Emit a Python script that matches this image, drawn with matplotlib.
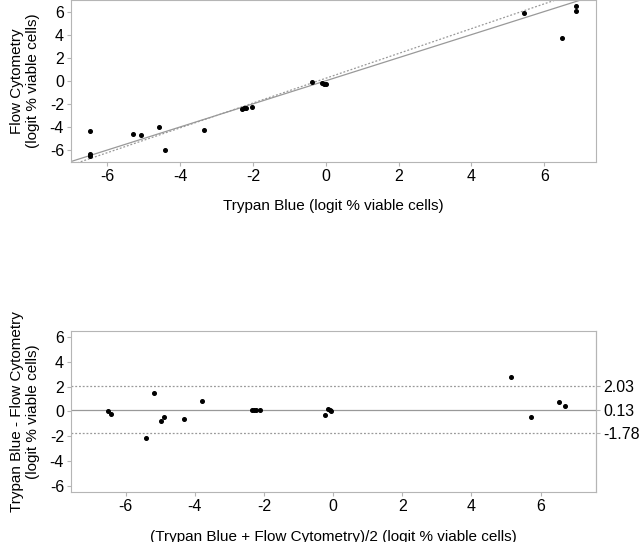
import numpy as np
import matplotlib.pyplot as plt

plt.rcParams['font.family'] = ['Liberation Sans', 'DejaVu Sans']
plt.rcParams['font.size'] = 11
plt.rcParams['axes.unicode_minus'] = False

# top panel: trypan blue vs flow cytometry (logit % viable cells)
tb = [-6.48, -6.48, -6.48, -5.31, -5.09, -4.58, -4.41, -3.36, -2.29, -2.24, -2.20,
      -2.04, -0.39, -0.10, -0.05, 0.00, 5.44, 6.48, 6.88, 6.88]
fc = [-4.36, -6.35, -6.50, -4.64, -4.70, -4.04, -5.97, -4.27, -2.42, -2.40, -2.38,
      -2.25, -0.11, -0.15, -0.25, -0.25, 5.89, 3.72, 6.44, 6.09]

# fitted line (dotted), identity line is solid
fit_slope = 1.075
fit_icept = 0.22

# bottom panel: Bland-Altman
ba_mean = [-6.50, -6.41, -5.17, -5.42, -4.98, -4.89, -4.30, -3.80, -2.35, -2.29, -2.23,
           -2.12, -0.25, -0.14, -0.10, -0.05, 5.15, 5.71, 6.53, 6.70]
ba_diff = [0.02, -0.22, 1.47, -2.18, -0.76, -0.46, -0.62, 0.86, 0.13, 0.13, 0.13,
           0.13, -0.33, 0.21, 0.10, 0.05, 2.74, -0.46, 0.78, 0.43]
bias = 0.13
loa_hi = 2.03
loa_lo = -1.78

grey = '#999999'
spine = '#b5b5b5'

fig = plt.figure(figsize=(6.39, 5.42), dpi=100)
W, H = 639, 542

def style(ax):
    for s in ax.spines.values():
        s.set_color(spine)
    ax.tick_params(color=spine, length=3, width=0.8, labelsize=11.5, pad=2)

ax1 = fig.add_axes([71 / W, 1 - 162 / H, (596 - 71) / W, 162 / H])
ax1.set_xlim(-7.0, 7.42)
ax1.set_ylim(-7.04, 7.0)
xx = np.array([-8, 8])
ax1.plot(xx, xx, color=grey, lw=0.9)
ax1.plot(xx, fit_slope * xx + fit_icept, color=grey, lw=0.9, ls=(0, (1.5, 1.5)))
ax1.plot(tb, fc, 'o', color='black', ms=2.6)
ax1.set_xticks([-6, -4, -2, 0, 2, 4, 6])
ax1.set_yticks([-6, -4, -2, 0, 2, 4, 6])
ax1.set_xlabel('Trypan Blue (logit % viable cells)', labelpad=11)
ax1.set_ylabel('Flow Cytometry\n(logit % viable cells)', labelpad=7)
style(ax1)

ax2 = fig.add_axes([71 / W, 1 - 492.3 / H, (596 - 71) / W, (492.3 - 330.7) / H])
ax2.set_xlim(-7.58, 7.6)
ax2.set_ylim(-6.53, 6.5)
ax2.axhline(bias, color=grey, lw=0.9)
ax2.axhline(loa_hi, color=grey, lw=0.9, ls=(0, (1.5, 1.5)))
ax2.axhline(loa_lo, color=grey, lw=0.9, ls=(0, (1.5, 1.5)))
ax2.plot(ba_mean, ba_diff, 'o', color='black', ms=2.6)
ax2.set_xticks([-6, -4, -2, 0, 2, 4, 6])
ax2.set_yticks([-6, -4, -2, 0, 2, 4, 6])
ax2.set_xlabel('(Trypan Blue + Flow Cytometry)/2 (logit % viable cells)', labelpad=11)
ax2.set_ylabel('Trypan Blue - Flow Cytometry\n(logit % viable cells)', labelpad=7)
style(ax2)

axr = ax2.secondary_yaxis('right')
axr.set_yticks([loa_hi, bias, loa_lo])
axr.set_yticklabels(['2.03', '0.13', '-1.78'])
axr.spines['right'].set_color(spine)
axr.tick_params(color=spine, length=3, width=0.8, labelsize=11.5, pad=2)

fig.savefig('out.png', dpi=100)
